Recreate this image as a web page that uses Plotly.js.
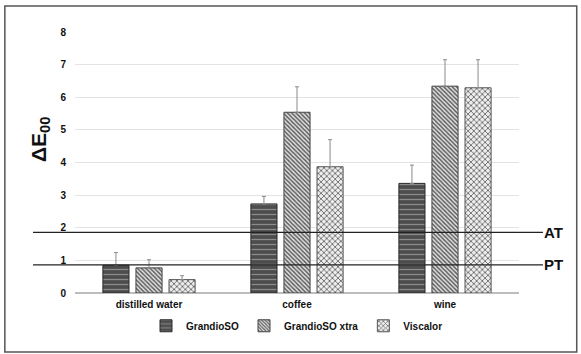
<!DOCTYPE html>
<html>
<head>
<meta charset="utf-8">
<script src="https://cdn.plot.ly/plotly-3.0.1.min.js"></script>
<style>html,body{margin:0;padding:0;background:#fff;}#chart{width:581px;height:354px;}</style>
</head>
<body>
<div id="chart"></div>
<script>
const categories = ["distilled water", "coffee", "wine"];
const seriesNames = ["GrandioSO", "GrandioSO xtra", "Viscalor"];
const grandioSO = [0.85, 2.73, 3.36];
const grandioSOErr = [0.39, 0.23, 0.56];
const grandioSOXtra = [0.77, 5.54, 6.34];
const grandioSOXtraErr = [0.25, 0.78, 0.81];
const viscalor = [0.41, 3.87, 6.29];
const viscalorErr = [0.12, 0.83, 0.86];
const thresholdNames = ["AT", "PT"];
const thresholdValues = [1.86, 0.86];
const yTicks = [0, 1, 2, 3, 4, 5, 6, 7, 8];
const yTitle = "ΔE<sub>00</sub>";

const font = {family: "Liberation Sans, Arial, sans-serif", size: 10, color: "#111", weight: "bold"};
const errStyle = (arr) => ({type: "data", symmetric: false, array: arr, arrayminus: arr.map(() => 0),
                            visible: true, color: "#8a8a8a", thickness: 1, width: 2});

const traces = [
  {type: "bar", name: seriesNames[0], x: categories, y: grandioSO, error_y: errStyle(grandioSOErr),
   marker: {color: "#4d4d4d", line: {color: "#2a2a2a", width: 1},
            pattern: {shape: "-", fgcolor: "#8c8c8c", bgcolor: "#4d4d4d", size: 5, solidity: 0.25}}},
  {type: "bar", name: seriesNames[1], x: categories, y: grandioSOXtra, error_y: errStyle(grandioSOXtraErr),
   marker: {color: "#9a9a9a", line: {color: "#444", width: 1},
            pattern: {shape: "\\", fgcolor: "#5e5e5e", bgcolor: "#e4e4e4", size: 3, solidity: 0.5}}},
  {type: "bar", name: seriesNames[2], x: categories, y: viscalor, error_y: errStyle(viscalorErr),
   marker: {color: "#a0a0a0", line: {color: "#555", width: 1},
            pattern: {shape: "x", fgcolor: "#6a6a6a", bgcolor: "#eeeeee", size: 4, solidity: 0.4}}}
];

const shapes = [
  {type: "rect", xref: "paper", yref: "paper", x0: -0.158, x1: 1.130, y0: -0.226, y1: 1.0996,
   line: {color: "#555", width: 1.5}, layer: "below"}
];
const annotations = [
  {xref: "paper", yref: "paper", x: -0.1126, y: 0.586, text: yTitle, textangle: -90, showarrow: false,
   font: {family: font.family, size: 21, color: "#111", weight: "bold"}}
];
thresholdNames.forEach((n, i) => {
  shapes.push({type: "line", xref: "paper", yref: "y", x0: -0.0946, x1: 1.054,
               y0: thresholdValues[i], y1: thresholdValues[i], line: {color: "#222", width: 1.3}});
  annotations.push({xref: "paper", yref: "y", x: 1.104, y: thresholdValues[i], text: n, showarrow: false,
                    font: {family: font.family, size: 15, color: "#111", weight: "bold"}});
});

const layout = {
  width: 581, height: 354,
  margin: {l: 75, r: 62, t: 32, b: 61},
  paper_bgcolor: "#fff", plot_bgcolor: "#fff",
  font: font,
  barmode: "group", bargap: 0.33, bargroupgap: 0.21,
  showlegend: true,
  legend: {orientation: "h", x: 0.5, xanchor: "center", y: -0.07, yanchor: "top",
           bgcolor: "rgba(0,0,0,0)", font: font, itemwidth: 30, traceorder: "normal"},
  xaxis: {type: "category", showgrid: false, showline: false, ticks: "", tickfont: font,
          zeroline: false, ticklabelstandoff: 4},
  yaxis: {range: [0, 8], tickvals: yTicks, ticktext: yTicks.map(String), showgrid: true,
          gridcolor: "#e3e3e3", gridwidth: 1, zeroline: true, zerolinecolor: "#bdbdbd", zerolinewidth: 1.5,
          tickfont: font, ticklabelstandoff: 8},
  shapes: shapes,
  annotations: annotations
};

Plotly.newPlot("chart", traces, layout, {displayModeBar: false, staticPlot: true});
</script>
</body>
</html>
